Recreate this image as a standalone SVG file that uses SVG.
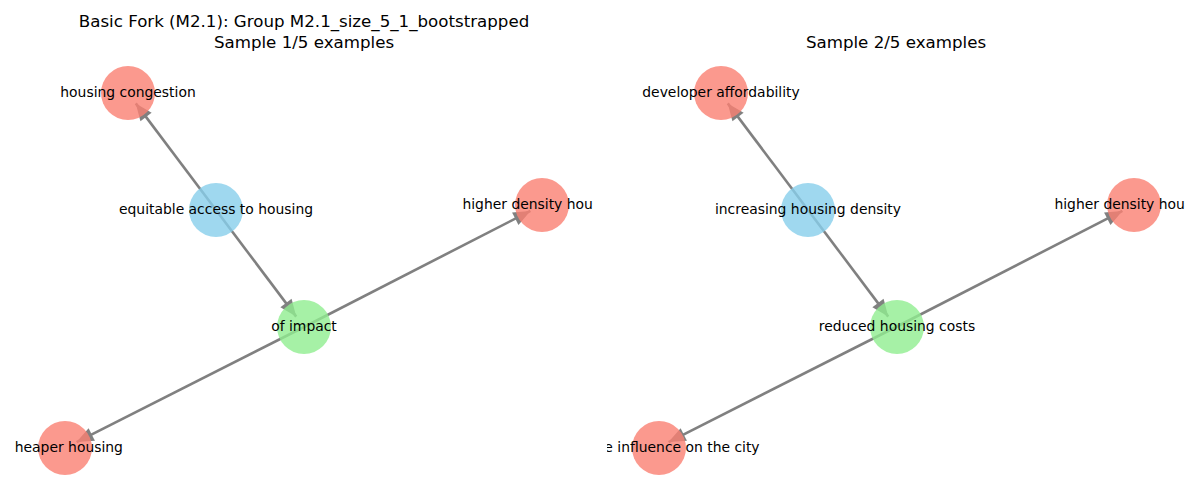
<svg xmlns="http://www.w3.org/2000/svg" width="1200" height="500" viewBox="0 0 1200 500">
<style>
.title{font-family:"DejaVu Sans","Liberation Sans",sans-serif;font-size:16.67px;fill:#000;text-anchor:middle}
.lbl{font-family:"DejaVu Sans","Liberation Sans",sans-serif;font-size:13.9px;fill:#000;text-anchor:middle;dominant-baseline:central}
.edge{stroke:#808080;stroke-width:2.6;fill:none;marker-end:url(#ah)}
.red{fill:#FA8072;fill-opacity:0.8}
.blue{fill:#87CEEB;fill-opacity:0.8}
.green{fill:#90EE90;fill-opacity:0.8}
</style>
<defs>
<marker id="ah" markerUnits="userSpaceOnUse" markerWidth="20" markerHeight="16" viewBox="0 -8 20 16" refX="17" refY="0" orient="auto" overflow="visible">
<path d="M0,-7 L17,0 L0,7 z" fill="#808080"/>
</marker>
<clipPath id="ax"><rect x="15" y="55" width="578" height="440"/></clipPath>
</defs>
<rect width="1200" height="500" fill="#fff"/>
<text class="title" x="304" y="27">Basic Fork (M2.1): Group M2.1_size_5_1_bootstrapped</text>
<text class="title" x="304" y="48">Sample 1/5 examples</text>
<text class="title" x="896" y="48">Sample 2/5 examples</text>

<g id="panel1" clip-path="url(#ax)">
<g id="edges1">
<line class="edge" x1="216" y1="210" x2="135.8" y2="103.4"/>
<line class="edge" x1="216" y1="210" x2="296.2" y2="316.6"/>
<line class="edge" x1="304" y1="327" x2="530.4" y2="210.9"/>
<line class="edge" x1="304" y1="327" x2="76.6" y2="442.1"/>
</g>
<g id="n1_housing_congestion"><circle class="red" cx="128" cy="93" r="27"/><text class="lbl" x="128" y="92">housing congestion</text></g>
<g id="n1_equitable_access"><circle class="blue" cx="216" cy="210" r="27"/><text class="lbl" x="216" y="209">equitable access to housing</text></g>
<g id="n1_of_impact"><circle class="green" cx="304" cy="327" r="27"/><text class="lbl" x="304" y="326">of impact</text></g>
<g id="n1_higher_density"><circle class="red" cx="542" cy="205" r="27"/><text class="lbl" x="542" y="204">higher density housing</text></g>
<g id="n1_cheaper_housing"><circle class="red" cx="65" cy="448" r="27"/><text class="lbl" x="65" y="447">cheaper housing</text></g>
</g>

<g transform="translate(592,0)">
<g id="panel2" clip-path="url(#ax)">
<g id="edges2">
<line class="edge" x1="216" y1="210" x2="135.8" y2="103.4"/>
<line class="edge" x1="216" y1="210" x2="296.2" y2="316.6"/>
<line class="edge" x1="304" y1="327" x2="530.4" y2="210.9"/>
<line class="edge" x1="304" y1="327" x2="76.6" y2="442.1"/>
</g>
<g id="n2_developer_affordability"><circle class="red" cx="129" cy="93" r="27"/><text class="lbl" x="129" y="92">developer affordability</text></g>
<g id="n2_increasing_density"><circle class="blue" cx="216" cy="210" r="27"/><text class="lbl" x="216" y="209">increasing housing density</text></g>
<g id="n2_reduced_costs"><circle class="green" cx="305" cy="327" r="27"/><text class="lbl" x="305" y="326">reduced housing costs</text></g>
<g id="n2_higher_density"><circle class="red" cx="542" cy="205" r="27"/><text class="lbl" x="542" y="204">higher density housing</text></g>
<g id="n2_influence_city"><circle class="red" cx="67" cy="448" r="27"/><text class="lbl" x="67" y="447">positive influence on the city</text></g>
</g>
</g>
</svg>
